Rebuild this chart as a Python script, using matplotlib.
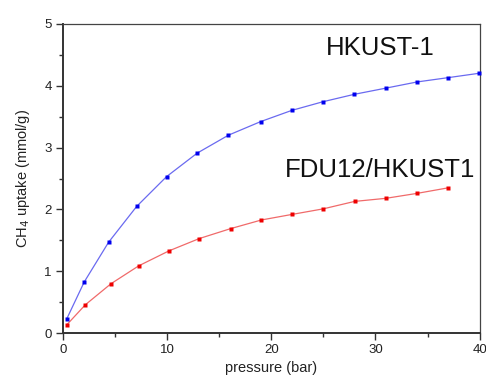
import matplotlib
matplotlib.use("Agg")
import matplotlib.pyplot as plt
from matplotlib.ticker import MultipleLocator

plt.rcParams['font.family'] = ['Liberation Sans', 'DejaVu Sans']

# CH4 uptake isotherms
p_hkust = [0.38, 2.07, 4.4, 7.1, 9.96, 12.9, 15.9, 19.0, 21.97, 24.96, 27.97, 31.0, 34.0, 37.0, 39.95]
u_hkust = [0.23, 0.83, 1.47, 2.05, 2.53, 2.91, 3.20, 3.42, 3.60, 3.74, 3.86, 3.96, 4.06, 4.13, 4.20]

p_fdu = [0.41, 2.17, 4.63, 7.3, 10.18, 13.1, 16.1, 19.06, 22.0, 25.0, 28.0, 31.0, 34.0, 37.0]
u_fdu = [0.14, 0.46, 0.80, 1.09, 1.33, 1.53, 1.69, 1.83, 1.92, 2.01, 2.13, 2.18, 2.26, 2.35]

x_ticks = [0, 10, 20, 30, 40]
y_ticks = [0, 1, 2, 3, 4, 5]

W, H = 486, 377
fig = plt.figure(figsize=(W / 100, H / 100), dpi=100)
ax = fig.add_axes([0.129, 0.116, 0.858, 0.821])

ax.plot(p_hkust, u_hkust, '-', color='#6a6af0', lw=0.9, zorder=2)
ax.plot(p_hkust, u_hkust, 's', color='#0000ee', ms=3.2, mec='none', zorder=3, clip_on=False)
ax.plot(p_fdu, u_fdu, '-', color='#f06a6a', lw=0.9, zorder=2)
ax.plot(p_fdu, u_fdu, 's', color='#ee0000', ms=3.2, mec='none', zorder=3, clip_on=False)

ax.set_xlim(0, 40)
ax.set_ylim(0, 5)
ax.set_xticks(x_ticks)
ax.set_yticks(y_ticks)
ax.xaxis.set_minor_locator(MultipleLocator(5))
ax.yaxis.set_minor_locator(MultipleLocator(0.5))

for side in ['left', 'bottom']:
    ax.spines[side].set_linewidth(1.4)
    ax.spines[side].set_color('#333333')
for side in ['top', 'right']:
    ax.spines[side].set_linewidth(0.9)
    ax.spines[side].set_color('#444444')

ax.tick_params(which='major', direction='out', length=5, width=1.0, color='#333333',
               labelsize=9.5, labelcolor='#222222', pad=3)
ax.tick_params(which='minor', direction='out', length=3, width=1.0, color='#333333')

ax.set_xlabel('pressure (bar)', fontsize=10.5, color='#222222', labelpad=3)
ax.set_ylabel('CH$_4$ uptake (mmol/g)', fontsize=10.5, color='#222222', labelpad=9)

fig.text(380 / W, 1 - 48 / H, 'HKUST-1', fontsize=18.5, ha='center', va='center',
         color='#111111')
fig.text(380 / W, 1 - 170 / H, 'FDU12/HKUST1', fontsize=18.5, ha='center', va='center',
         color='#111111')

fig.savefig('out.png', dpi=100)
